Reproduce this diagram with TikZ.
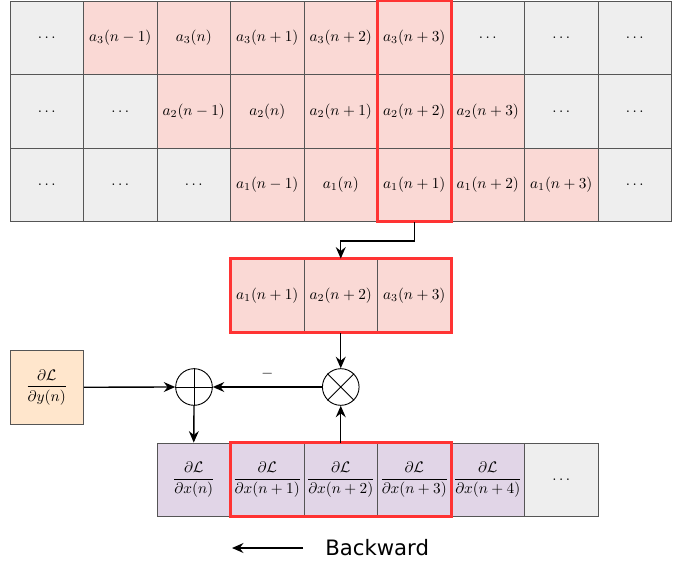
\documentclass[tikz,border=0pt]{standalone}
\usepackage{amsmath}
\usepackage{fontspec}
\newfontfamily\labelfont{DejaVu Sans}
\usetikzlibrary{arrows.meta,calc}
\definecolor{cellgrey}{HTML}{EEEEEE}
\definecolor{cellpink}{HTML}{FAD9D5}
\definecolor{cellorange}{HTML}{FFE6CC}
\definecolor{cellpurple}{HTML}{E1D5E7}
\definecolor{hlred}{HTML}{FF3333}
\definecolor{cellline}{HTML}{555555}
\tikzset{
  cell/.style={draw=cellline, line width=0.6pt, minimum width=48.14pt, minimum height=48.14pt, inner sep=0pt, anchor=center},
  gcell/.style={cell, fill=cellgrey},
  pcell/.style={cell, fill=cellpink},
  ocell/.style={cell, fill=cellorange},
  vcell/.style={cell, fill=cellpurple},
  hlbox/.style={draw=hlred, line width=2pt},
  opcircle/.style={circle, draw=black, line width=0.6pt, fill=white, minimum size=24pt, inner sep=0pt},
  arr/.style={draw=black, line width=0.9pt, -{Stealth[length=7.5pt,width=6.5pt,inset=2.5pt]}},
}
\begin{document}
\begin{tikzpicture}[x=0.655pt,y=-0.655pt]
\useasboundingbox (0,0) rectangle (691,565);
% top grid, row a3
\node[gcell] (t11) at (46.75,37.75) {$\ldots$};
\node[pcell] (t12) at (120.25,37.75) {$a_3(n-1)$};
\node[pcell] (t13) at (193.75,37.75) {$a_3(n)$};
\node[pcell] (t14) at (267.25,37.75) {$a_3(n+1)$};
\node[pcell] (t15) at (340.75,37.75) {$a_3(n+2)$};
\node[pcell] (t16) at (414.25,37.75) {$a_3(n+3)$};
\node[gcell] (t17) at (487.75,37.75) {$\ldots$};
\node[gcell] (t18) at (561.25,37.75) {$\ldots$};
\node[gcell] (t19) at (634.75,37.75) {$\ldots$};
% row a2
\node[gcell] (t21) at (46.75,111.25) {$\ldots$};
\node[gcell] (t22) at (120.25,111.25) {$\ldots$};
\node[pcell] (t23) at (193.75,111.25) {$a_2(n-1)$};
\node[pcell] (t24) at (267.25,111.25) {$a_2(n)$};
\node[pcell] (t25) at (340.75,111.25) {$a_2(n+1)$};
\node[pcell] (t26) at (414.25,111.25) {$a_2(n+2)$};
\node[pcell] (t27) at (487.75,111.25) {$a_2(n+3)$};
\node[gcell] (t28) at (561.25,111.25) {$\ldots$};
\node[gcell] (t29) at (634.75,111.25) {$\ldots$};
% row a1
\node[gcell] (t31) at (46.75,184.75) {$\ldots$};
\node[gcell] (t32) at (120.25,184.75) {$\ldots$};
\node[gcell] (t33) at (193.75,184.75) {$\ldots$};
\node[pcell] (t34) at (267.25,184.75) {$a_1(n-1)$};
\node[pcell] (t35) at (340.75,184.75) {$a_1(n)$};
\node[pcell] (t36) at (414.25,184.75) {$a_1(n+1)$};
\node[pcell] (t37) at (487.75,184.75) {$a_1(n+2)$};
\node[pcell] (t38) at (561.25,184.75) {$a_1(n+3)$};
\node[gcell] (t39) at (634.75,184.75) {$\ldots$};
\draw[hlbox] (t16.north west) rectangle (t36.south east);
% middle selected row
\node[pcell] (m1) at (267.25,295.75) {$a_1(n+1)$};
\node[pcell] (m2) at (340.75,295.75) {$a_2(n+2)$};
\node[pcell] (m3) at (414.25,295.75) {$a_3(n+3)$};
\draw[hlbox] (m1.north west) rectangle (m3.south east);
% gradient of output
\node[ocell] (dy) at (46.75,387.25) {$\dfrac{\partial\mathcal{L}}{\partial y(n)}$};
% operators
\node[opcircle] (plus) at (194,387) {};
\draw[line width=0.6pt] (plus.north) -- (plus.south) (plus.west) -- (plus.east);
\node[opcircle] (mul) at (340.75,387) {};
\draw[line width=0.6pt] (mul.north west) -- (mul.south east) (mul.north east) -- (mul.south west);
% bottom gradient row
\node[vcell] (b3) at (193.75,479.75) {$\dfrac{\partial\mathcal{L}}{\partial x(n)}$};
\node[vcell] (b4) at (267.25,479.75) {$\dfrac{\partial\mathcal{L}}{\partial x(n+1)}$};
\node[vcell] (b5) at (340.75,479.75) {$\dfrac{\partial\mathcal{L}}{\partial x(n+2)}$};
\node[vcell] (b6) at (414.25,479.75) {$\dfrac{\partial\mathcal{L}}{\partial x(n+3)}$};
\node[vcell] (b7) at (487.75,479.75) {$\dfrac{\partial\mathcal{L}}{\partial x(n+4)}$};
\node[gcell] (b8) at (561.25,479.75) {$\ldots$};
\draw[hlbox] (b4.north west) rectangle (b6.south east);
% connectors
\draw[arr] (t36.south) -- ++(0,19) -| (m2.north);
\draw[arr] (m2.south) -- (mul.north);
\draw[arr] (b5.north) -- (mul.south);
\draw[arr] (mul.west) -- node[above=4pt, inner sep=1pt] (minus) {$-$} (plus.east);
\draw[arr] (dy.east) -- (plus.west);
\draw[arr] (plus.south) -- (b3.north);
% direction label
\coordinate (bwstart) at (303,548);
\coordinate (bwend) at (232,548);
\draw[arr] (bwstart) -- (bwend);
\node[anchor=west, inner sep=0pt] (bwlabel) at (325,548) {\labelfont\fontsize{13.9}{16}\selectfont Backward};
\end{tikzpicture}
\end{document}
